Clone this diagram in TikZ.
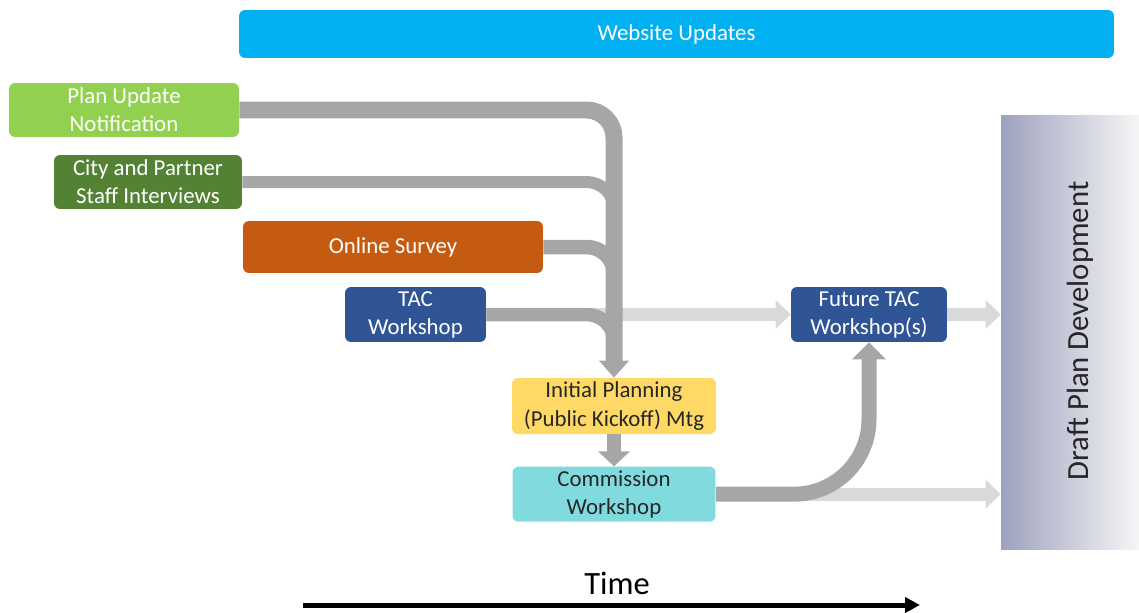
\documentclass[tikz,border=0pt]{standalone}
\usepackage{fontspec}
\setmainfont{Carlito}
\usepackage{xcolor}
\usetikzlibrary{arrows.meta,positioning}
\tikzset{
  font={\fontsize{13pt}{16pt}\selectfont}
}
\definecolor{colorW}{RGB}{0,176,240}
\definecolor{colorLG}{RGB}{146,208,80}
\definecolor{colorDG}{RGB}{84,130,53}
\definecolor{colorO}{RGB}{197,90,17}
\definecolor{colorB}{RGB}{47,85,151}
\definecolor{colorY}{RGB}{255,217,102}
\definecolor{colorT}{RGB}{128,218,222}
\definecolor{colorD}{RGB}{158,161,190}
\definecolor{colorDm}{RGB}{228,228,234}
\definecolor{colorDr}{RGB}{246,246,246}
\definecolor{colorA}{RGB}{166,166,166}
\definecolor{colorF}{RGB}{217,217,217}
\tikzstyle{block}=[rounded corners=0.12cm, inner sep=0pt, align=center, text=white, minimum height=1.1cm]
\tikzstyle{pipe}=[draw=colorA, line width=0.26cm, rounded corners=0.55cm]
\tikzstyle{head}=[-{Triangle[width=0.58cm,length=0.34cm]}]
\tikzstyle{faint}=[draw=colorF, line width=0.26cm, -{Triangle[width=0.56cm,length=0.3cm]}]
\tikzstyle{timeline}=[draw=black, line width=0.1cm, -{Triangle[width=0.3cm,length=0.3cm]}]

\begin{document}
\begin{tikzpicture}[x=0.02cm, y=-0.02cm]
\useasboundingbox (0,0) rectangle (1139,612);

\node[block,fill=colorW,minimum width=17.5cm,minimum height=0.96cm] (web) at (676.5,34) {Website Updates};
\node[block,fill=colorLG,minimum width=4.6cm,minimum height=1.08cm] (plan) at (124,110) {Plan Update\\Notification};
\node[block,fill=colorDG,minimum width=3.76cm,minimum height=1.08cm] (city) at (148,182) {City and Partner\\Staff Interviews};
\node[block,fill=colorO,minimum width=6cm,minimum height=1.04cm] (survey) at (393,247) {Online Survey};
\node[block,fill=colorB,minimum width=2.82cm] (tac) at (415.5,314.5) {TAC\\Workshop};
\node[block,fill=colorB,minimum width=3.12cm] (future) at (869,314.5) {Future TAC\\Workshop(s)};
\node[block,fill=colorY,text=black!85,minimum width=4.08cm,minimum height=1.12cm] (initial) at (614,406) {Initial Planning\\(Public Kickoff) Mtg};
\node[block,fill=colorT,text=black!85,below=0.64cm of initial,minimum width=4.06cm] (commission) {Commission\\Workshop};
\node[left color=colorD,middle color=colorDm,right color=colorDr,minimum width=2.76cm,minimum height=8.7cm,inner sep=0pt] (draft) at (1070,332.5) {};
\node[rotate=90,font={\fontsize{17.5pt}{21pt}\selectfont},text=black!85] (draftlabel) at (1080,331) {Draft Plan Development};

\coordinate (merge) at ([yshift=0.5cm]initial.north);

%%% faint arrows
\draw[faint] (tac.east) -- (future.west);
\draw[faint] (future.east) -- (future.east -| draft.west);
\draw[faint] (commission.east) -- (commission.east -| draft.west);

%%% main flow
\draw[pipe,line width=0.24cm] (city.east) -| (merge);
\draw[pipe,line width=0.29cm] (survey.east) -| (merge);
\draw[pipe,line width=0.27cm] (tac.east) -| (merge);
\draw[pipe,line width=0.34cm,head] (plan.east) -| (initial.north);
\draw[pipe,line width=0.27cm,-{Triangle[width=0.62cm,length=0.3cm]}] (initial) -- (commission);
\draw[pipe,line width=0.3cm,rounded corners=1.5cm,-{Triangle[width=0.66cm,length=0.34cm]}] (commission.east) -| (future.south);

%%% time
\node[font={\fontsize{18.5pt}{22pt}\selectfont}] (time) at (617,583) {Time};
\coordinate (t0) at (303,605);
\coordinate (t1) at (920,605);
\draw[timeline] (t0) -- (t1);

\end{tikzpicture}
\end{document}
